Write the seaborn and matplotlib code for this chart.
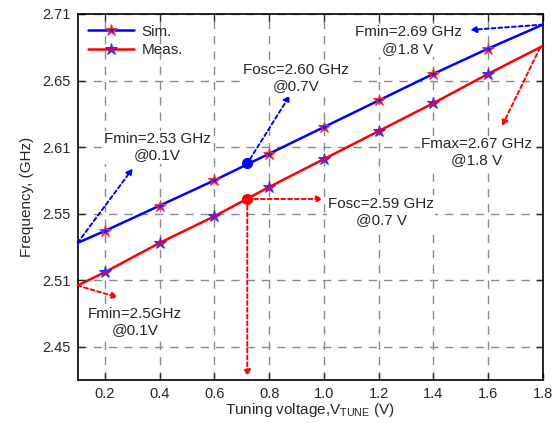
import matplotlib
matplotlib.use("Agg")
import matplotlib.pyplot as plt
import seaborn as sns
import pandas as pd

# ---- data ----
voltage = [0.1, 0.2, 0.4, 0.6, 0.8, 1.0, 1.2, 1.4, 1.6, 1.8]
sim_freq = [2.528, 2.537, 2.556, 2.575, 2.595, 2.615, 2.635, 2.655, 2.674, 2.692]
meas_freq = [2.496, 2.506, 2.528, 2.548, 2.570, 2.591, 2.612, 2.633, 2.655, 2.676]
osc_v = 0.72
sim_osc = 2.588
meas_osc = 2.561
x_ticks = [0.2, 0.4, 0.6, 0.8, 1.0, 1.2, 1.4, 1.6, 1.8]
x_tick_labels = ["0.2", "0.4", "0.6", "0.8", "1.0", "1.2", "1.4", "1.6", "1.8"]
y_ticks = [2.45, 2.50, 2.55, 2.60, 2.65, 2.70]
y_tick_labels = ["2.45", "2.51", "2.55", "2.61", "2.65", "2.71"]

sns.set_style("ticks")
plt.rcParams["font.family"] = ["Liberation Sans", "DejaVu Sans"]
plt.rcParams["mathtext.fontset"] = "custom"
plt.rcParams["mathtext.rm"] = "Liberation Sans"

fig = plt.figure(figsize=(5.58, 4.23), dpi=100)
ax = fig.add_axes([0.139, 0.1017, 0.834, 0.8653])

df = pd.DataFrame({"v": voltage, "sim": sim_freq, "meas": meas_freq})

sns.lineplot(data=df, x="v", y="sim", ax=ax, color="#0000ff", lw=1.8,
             marker="*", markersize=9, markerfacecolor="#2020ff",
             markeredgecolor="#ff3030", markeredgewidth=0.8,
             markevery=slice(1, len(voltage) - 1), label="Sim.", zorder=5)
sns.lineplot(data=df, x="v", y="meas", ax=ax, color="#ff0000", lw=1.8,
             marker="*", markersize=9, markerfacecolor="#e00040",
             markeredgecolor="#3030ff", markeredgewidth=0.8,
             markevery=slice(1, len(voltage) - 1), label="Meas.", zorder=5)

ax.plot([osc_v], [sim_osc], "o", color="#0000ff", ms=7, zorder=6)
ax.plot([osc_v], [meas_osc], "o", color="#ff0000", ms=7, zorder=6)

ax.set_xlim(0.1, 1.8)
ax.set_ylim(2.425, 2.70)
ax.set_xticks(x_ticks)
ax.set_xticklabels(x_tick_labels)
ax.set_yticks(y_ticks)
ax.set_yticklabels(y_tick_labels)
ax.tick_params(direction="in", length=5, width=1, top=True, right=True,
               labelsize=10.5, pad=5)
for s in ax.spines.values():
    s.set_linewidth(1.2)
    s.set_color("black")

ax.grid(True, linestyle=(0, (6, 5)), color="#8a8a8a", lw=1)
ax.set_axisbelow(True)

ax.set_xlabel(r"Tuning voltage,V$_{\mathrm{TUNE}}$ (V)", fontsize=11, labelpad=0)
ax.set_ylabel("Frequency, (GHz)", fontsize=11, labelpad=6)

leg = ax.legend(loc="upper left", frameon=False, fontsize=11,
                handlelength=3.0, borderaxespad=0.3, labelspacing=0.3,
                handletextpad=0.5)

box = dict(facecolor="white", edgecolor="none", pad=1)
tk = dict(fontsize=11, ha="center", va="center", multialignment="center",
          zorder=3, bbox=box)

def arrow(x0, y0, x1, y1, c):
    ax.annotate("", xy=(x1, y1), xytext=(x0, y0),
                arrowprops=dict(arrowstyle="-|>", color=c, lw=1.4,
                                linestyle=(0, (2, 1.5)), mutation_scale=9,
                                shrinkA=0, shrinkB=0), zorder=4)

# blue annotations
arrow(voltage[0], sim_freq[0], 0.302, 2.584, "#0000ff")
ax.text(0.39, 2.600, "Fmin=2.53 GHz\n@0.1V", **tk)
arrow(osc_v + 0.01, sim_osc + 0.003, 0.876, 2.639, "#0000ff")
ax.text(0.898, 2.652, "Fosc=2.60 GHz\n@0.7V", **tk)
arrow(voltage[-1], sim_freq[-1], 1.534, 2.688, "#0000ff")
ax.text(1.307, 2.680, "Fmin=2.69 GHz\n@1.8 V", **tk)

# red annotations
arrow(voltage[0], meas_freq[0], 0.248, 2.487, "#ff0000")
ax.text(0.31, 2.4687, "Fmin=2.5GHz\n@0.1V", **tk)
arrow(osc_v, meas_osc, 0.997, meas_osc, "#ff0000")
arrow(osc_v, meas_osc, osc_v, 2.4276, "#ff0000")
ax.text(1.209, 2.5515, "Fosc=2.59 GHz\n@0.7 V", **tk)
arrow(1.789, 2.6745, 1.65, 2.6156, "#ff0000")
ax.text(1.559, 2.596, "Fmax=2.67 GHz\n@1.8 V", **tk)

fig.savefig("out.png", dpi=100)
